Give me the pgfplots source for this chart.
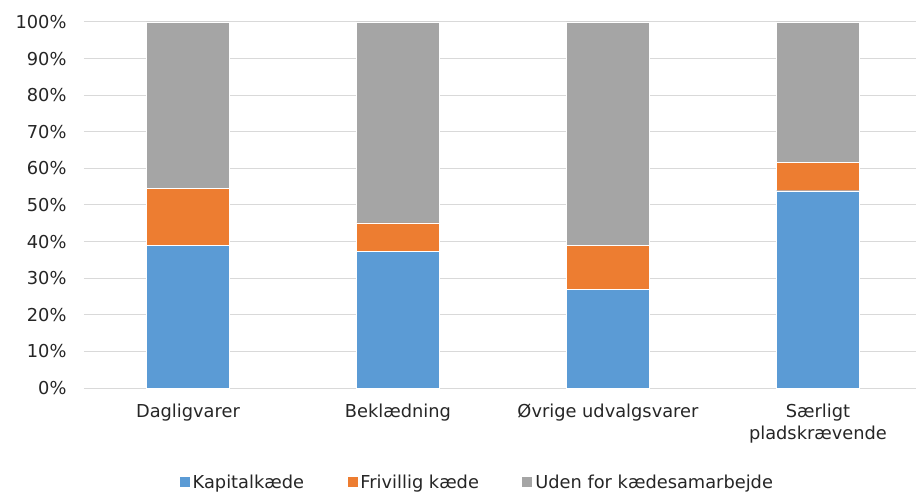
\documentclass[border=0pt]{standalone}
\usepackage{pgfplots}
\pgfplotsset{compat=1.18}
\usepackage{fontspec}
\setmainfont{DejaVu Sans}

\definecolor{kapital}{HTML}{5B9BD5}
\definecolor{frivillig}{HTML}{ED7D31}
\definecolor{uden}{HTML}{A5A5A5}
\definecolor{gridgray}{HTML}{D9D9D9}
\definecolor{textgray}{HTML}{262626}

\begin{document}
\begin{tikzpicture}[x=1pt,y=1pt]
\useasboundingbox (0,0) rectangle (916,493);
\begin{axis}[
  at={(84pt,105pt)}, anchor=south west,
  scale only axis, width=832pt, height=366pt,
  ybar stacked, bar width=83pt,
  xmin=-0.495, xmax=3.467, ymin=0, ymax=100,
  axis x line*=bottom, axis y line*=left,
  x axis line style={draw=gridgray, line width=1pt},
  y axis line style={draw=none},
  ytick={0,10,...,100},
  yticklabel={\pgfmathprintnumber{\tick}\%},
  /pgf/number format/assume math mode=true,
  major tick length=0pt,
  ymajorgrids, grid style={draw=gridgray, line width=1pt},
  xtick={0,1,2,3},
  xticklabels={Dagligvarer, Beklædning, Øvrige udvalgsvarer, {Særligt\\pladskrævende}},
  tick label style={font=\fontsize{17.8}{22}\selectfont, text=textgray},
  yticklabel style={xshift=-14pt},
  xticklabel style={align=center, yshift=-12pt},
  legend style={at={(axis description cs:0.4725,-0.257)}, anchor=center,
    draw=none, legend columns=3, font=\fontsize{17.8}{22}\selectfont, text=textgray,
    nodes={inner sep=2.5pt},
    /tikz/every even column/.append style={column sep=40pt}},
  legend image code/.code={\fill[#1] (0pt,-5.5pt) rectangle (11pt,5.5pt);},
  every axis plot/.append style={draw=white, line width=0.4pt},
]
\addplot[fill=kapital] coordinates {(0,39.0) (1,37.4) (2,27.0) (3,53.9)};
\addplot[fill=frivillig] coordinates {(0,15.5) (1,7.7) (2,12.0) (3,7.7)};
\addplot[fill=uden] coordinates {(0,45.5) (1,54.9) (2,61.0) (3,38.4)};
\legend{Kapitalkæde, Frivillig kæde, Uden for kædesamarbejde}
\end{axis}
\end{tikzpicture}
\end{document}
